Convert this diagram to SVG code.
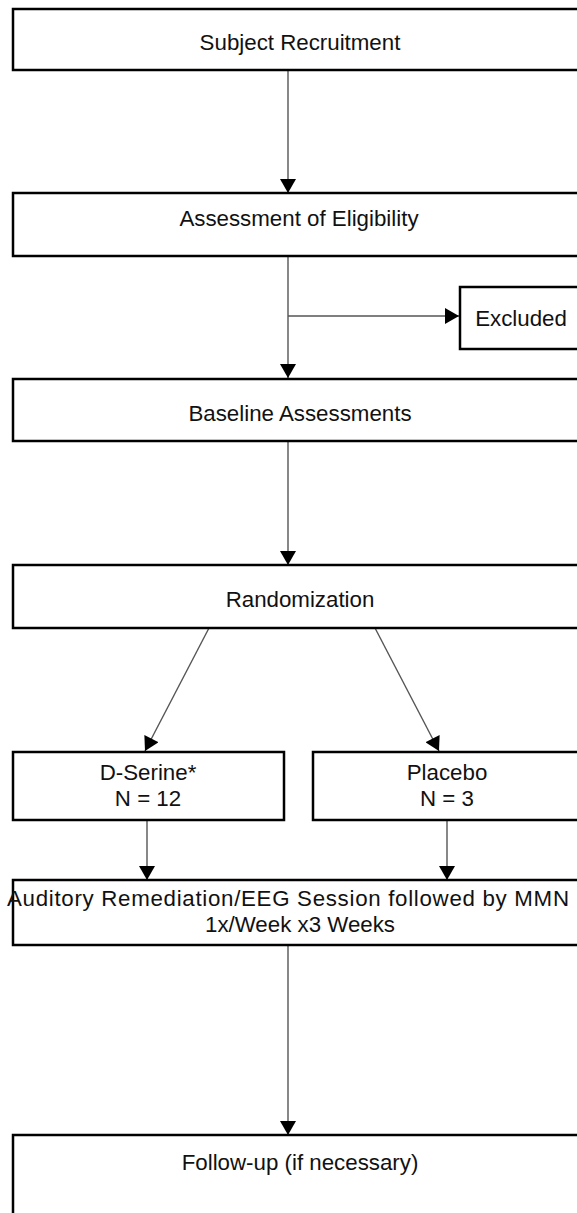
<svg xmlns="http://www.w3.org/2000/svg" width="577" height="1213" viewBox="0 0 577 1213">
<defs>
<marker id="ah" markerUnits="userSpaceOnUse" markerWidth="16" markerHeight="16" viewBox="0 0 14 16" refX="14" refY="8" orient="auto">
<path d="M0,0 L14,8 L0,16 Z" fill="#000"/>
</marker>
<style>
.box{fill:#fff;stroke:#000;stroke-width:2.5}
.lbl{font-family:"Liberation Sans",Arial,sans-serif;font-size:22.3px;fill:#111;text-anchor:middle}
.con{fill:none;stroke:#555;stroke-width:1.4;marker-end:url(#ah)}
</style>
</defs>
<rect width="577" height="1213" fill="#fff"/>
<g id="connectors">
<line class="con" x1="288" y1="70" x2="288" y2="193"/>
<line class="con" x1="288" y1="256" x2="288" y2="378"/>
<line class="con" x1="288" y1="316" x2="459" y2="316"/>
<line class="con" x1="288" y1="441" x2="288" y2="565"/>
<line class="con" x1="209" y1="628" x2="145" y2="751"/>
<line class="con" x1="375" y1="628" x2="439" y2="751"/>
<line class="con" x1="147" y1="820" x2="147" y2="880"/>
<line class="con" x1="447" y1="820" x2="447" y2="880"/>
<line class="con" x1="288" y1="945" x2="288" y2="1135"/>
</g>
<g id="n1"><rect class="box" x="13" y="9" width="580" height="61"/><text class="lbl" x="300" y="50">Subject Recruitment</text></g>
<g id="n2"><rect class="box" x="13" y="193" width="580" height="63"/><text class="lbl" x="299" y="226">Assessment of Eligibility</text></g>
<g id="n3"><rect class="box" x="460" y="287" width="140" height="62"/><text class="lbl" x="521" y="326">Excluded</text></g>
<g id="n4"><rect class="box" x="13" y="379" width="580" height="62"/><text class="lbl" x="300" y="421">Baseline Assessments</text></g>
<g id="n5"><rect class="box" x="13" y="565" width="580" height="63"/><text class="lbl" x="300" y="607">Randomization</text></g>
<g id="n6"><rect class="box" x="13" y="752" width="271" height="68"/><text class="lbl" x="148" y="780">D-Serine*</text><text class="lbl" x="148" y="805.5">N = 12</text></g>
<g id="n7"><rect class="box" x="313" y="752" width="280" height="68"/><text class="lbl" x="447" y="780">Placebo</text><text class="lbl" x="447" y="805.5">N = 3</text></g>
<g id="n8"><rect class="box" x="13" y="880" width="580" height="65"/><text class="lbl" x="288" y="906" textLength="562" lengthAdjust="spacing">Auditory Remediation/EEG Session followed by MMN</text><text class="lbl" x="300" y="931.5">1x/Week x3 Weeks</text></g>
<g id="n9"><rect class="box" x="13" y="1135" width="580" height="90"/><text class="lbl" x="300" y="1170">Follow-up (if necessary)</text></g>
</svg>
